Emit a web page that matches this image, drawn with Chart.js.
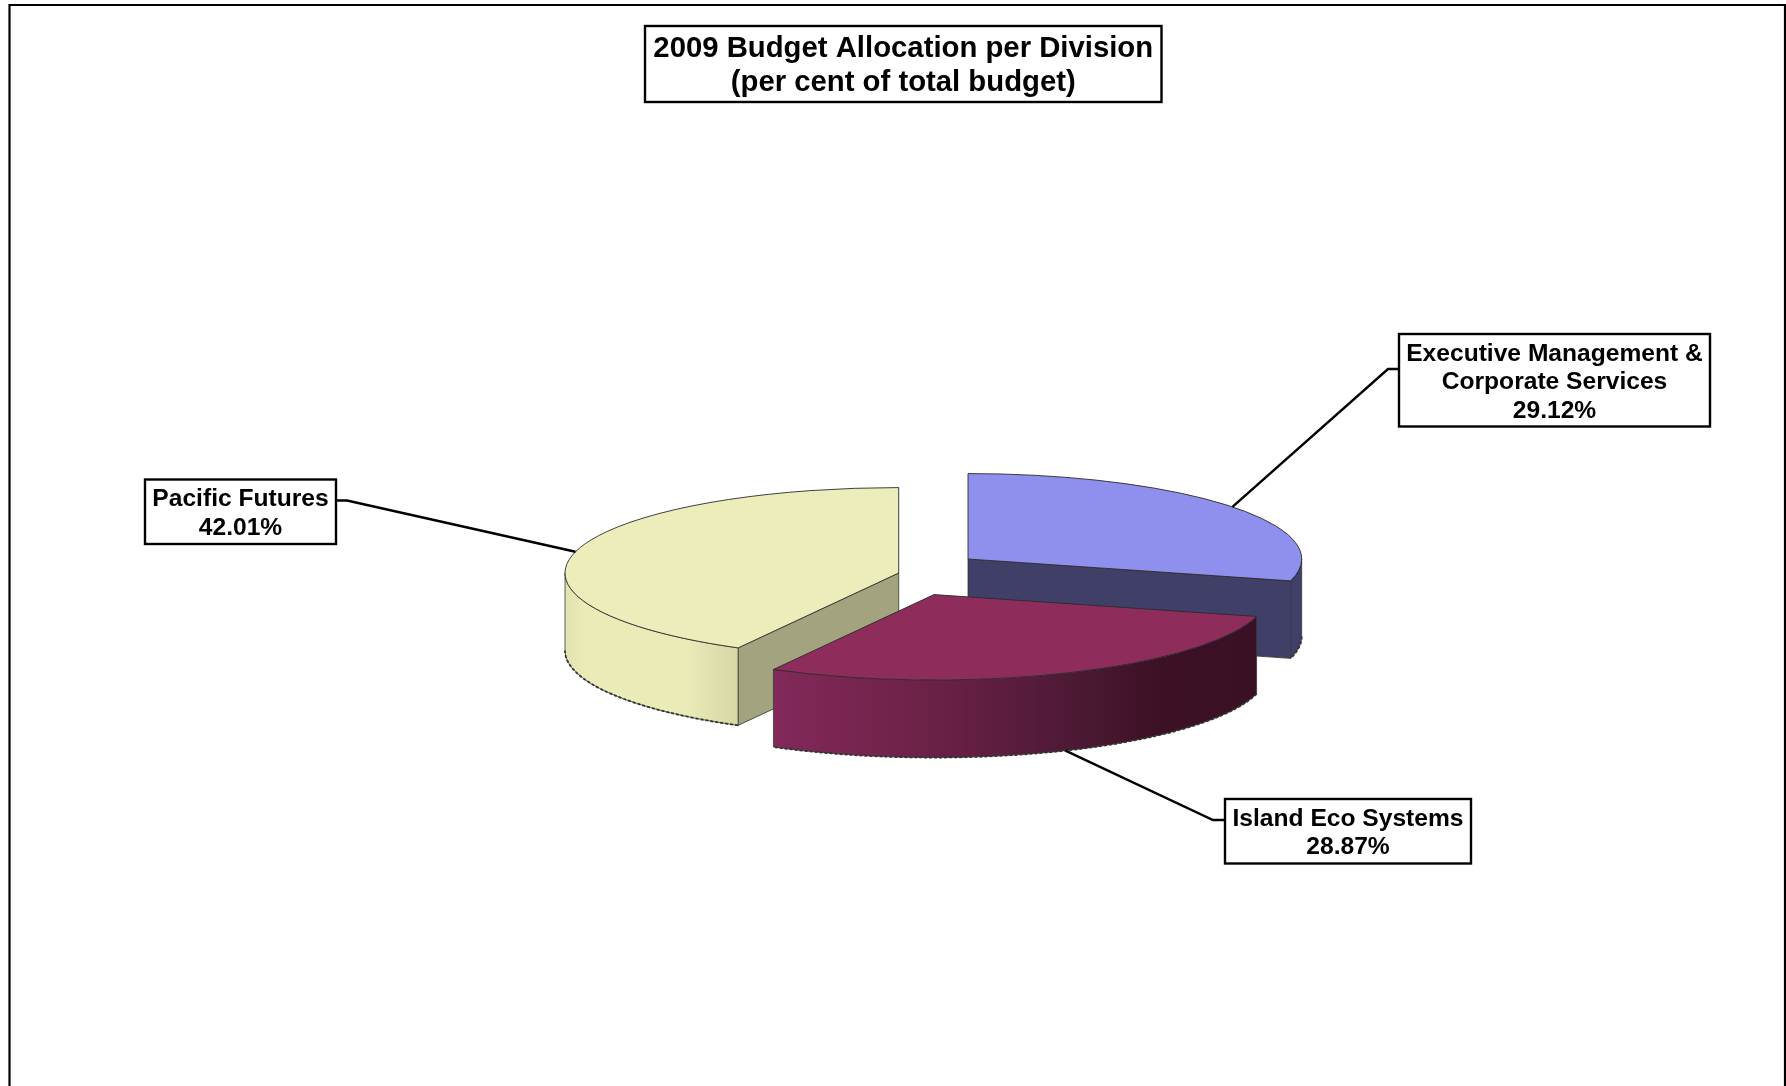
<!DOCTYPE html>
<html>
<head>
<meta charset="utf-8">
<title>2009 Budget Allocation per Division</title>
<script src="https://cdn.jsdelivr.net/npm/chart.js@4"></script>
<style>
  html, body { margin: 0; padding: 0; background: #fff; overflow: hidden; }
  canvas { display: block; }
</style>
</head>
<body>
<canvas id="budget" width="1786" height="1086"></canvas>
<script>
// budget share per division, in per cent
const divisions = ['Pacific Futures', 'Executive Management & Corporate Services', 'Island Eco Systems'];
const shares = [42.01, 29.12, 28.87];
const titleLines = ['2009 Budget Allocation per Division', '(per cent of total budget)'];

// label text is wrapped by hand, one entry per division
const labelLines = [['Pacific Futures'], ['Executive Management &', 'Corporate Services'], ['Island Eco Systems']];

const topColors = ['#ededbc', '#8f8fed', '#8e2c5c'];
const cutColors = ['#a3a380', '#3f3f68', '#5a1c3a'];
const wallStops = [
  [[0, '#e2e2b2'], [0.12, '#ebebb8'], [0.7, '#ebebb8'], [1, '#d6d6a6']],
  [[0, '#3f3f6a'], [1, '#3f3f6a']],
  [[0, '#82295a'], [0.3, '#6e2248'], [0.6, '#4f1a36'], [0.8, '#3c1125'], [1, '#3a1024']]
];

// how far each slice is pulled away from the pie centre
const pull = [[5.7, 30], [75, 16], [41, 51.6]];
const TILT = 0.256;
const DEPTH = 77.5;
const RADIUS = 333.7;

const boxes = [
  { x: 145, y: 479.5, w: 191, h: 64.5, elbow: [347, 500.5], side: 'right' },
  { x: 1399, y: 334, w: 311, h: 92.5, elbow: [1388, 369], side: 'left' },
  { x: 1225, y: 799, w: 246, h: 64.5, elbow: [1213, 820], side: 'left' }
];

const FONT = '"Liberation Sans", Arial, sans-serif';

function drawBox(ctx, x, y, w, h, lines, size, lineHeight) {
  ctx.fillStyle = '#fff';
  ctx.strokeStyle = '#000';
  ctx.lineWidth = 2.4;
  ctx.fillRect(x, y, w, h);
  ctx.strokeRect(x, y, w, h);
  ctx.fillStyle = '#000';
  ctx.font = 'bold ' + size + 'px ' + FONT;
  ctx.textAlign = 'center';
  ctx.textBaseline = 'middle';
  const top = y + h / 2 - (lines.length - 1) * lineHeight / 2;
  lines.forEach((line, i) => ctx.fillText(line, x + w / 2, top + i * lineHeight + 2));
}

// one slice: cut faces, outer wall, then the top face
function drawSlice(ctx, arc, i) {
  const { x, y, startAngle, endAngle, outerRadius } = arc.getProps(['x', 'y', 'startAngle', 'endAngle', 'outerRadius']);
  let a0 = startAngle;
  let a1 = endAngle;
  if (a0 < -Math.PI / 2 - 1e-6) { a0 += Math.PI * 2; a1 += Math.PI * 2; }

  const cx = x + pull[i][0];
  const cy = y + pull[i][1];
  const rx = outerRadius;
  const ry = outerRadius * TILT;
  const px = a => cx + rx * Math.cos(a);
  const py = a => cy + ry * Math.sin(a);

  ctx.lineJoin = 'round';

  // radial cut faces, only the ones turned to the viewer
  [[a0, Math.cos(a0) < -1e-6], [a1, Math.cos(a1) > 1e-6]].forEach(([a, visible]) => {
    if (!visible) return;
    ctx.beginPath();
    ctx.moveTo(cx, cy);
    ctx.lineTo(px(a), py(a));
    ctx.lineTo(px(a), py(a) + DEPTH);
    ctx.lineTo(cx, cy + DEPTH);
    ctx.closePath();
    ctx.fillStyle = cutColors[i];
    ctx.fill();
    ctx.strokeStyle = '#33332a';
    ctx.lineWidth = 0.8;
    ctx.stroke();
  });

  // outer wall on the front half of the rim
  const w0 = Math.max(a0, 0);
  const w1 = Math.min(a1, Math.PI);
  if (w1 > w0) {
    const xs = [px(w0), px(w1)];
    if (w0 <= 0 || w1 >= Math.PI) xs.push(w0 <= 0 ? cx + rx : cx - rx);
    const g = ctx.createLinearGradient(Math.min(...xs), 0, Math.max(...xs), 0);
    wallStops[i].forEach(s => g.addColorStop(s[0], s[1]));
    ctx.beginPath();
    ctx.ellipse(cx, cy, rx, ry, 0, w0, w1);
    ctx.ellipse(cx, cy + DEPTH, rx, ry, 0, w1, w0, true);
    ctx.closePath();
    ctx.fillStyle = g;
    ctx.fill();
    ctx.strokeStyle = '#3a3a3a';
    ctx.lineWidth = 0.8;
    ctx.stroke();

    // the lower rim comes out broken and grey
    ctx.beginPath();
    ctx.ellipse(cx, cy + DEPTH, rx, ry, 0, w0, w1);
    ctx.setLineDash([3, 2]);
    ctx.strokeStyle = '#333';
    ctx.lineWidth = 1.8;
    ctx.stroke();
    ctx.setLineDash([]);
  }

  // top face
  ctx.beginPath();
  ctx.moveTo(cx, cy);
  ctx.ellipse(cx, cy, rx, ry, 0, a0, a1);
  ctx.closePath();
  ctx.fillStyle = topColors[i];
  ctx.fill();
  ctx.strokeStyle = '#2b2b2b';
  ctx.lineWidth = 0.9;
  ctx.stroke();
}

// leader line runs from the box elbow to the rim at the slice's mid angle
function leaderAnchor(arc, i) {
  const { x, y, outerRadius, startAngle, endAngle } = arc.getProps(['x', 'y', 'outerRadius', 'startAngle', 'endAngle']);
  const mid = (startAngle + endAngle) / 2;
  const ax = x + pull[i][0] + outerRadius * Math.cos(mid);
  let ay = y + pull[i][1] + outerRadius * TILT * Math.sin(mid);
  if (Math.sin(mid) > 0) ay += DEPTH;
  return [ax, ay];
}

const tiltedPie = {
  id: 'tiltedPie',
  beforeDraw(chart) {
    const ctx = chart.ctx;
    ctx.save();
    ctx.fillStyle = '#fff';
    ctx.fillRect(0, 0, chart.width, chart.height);
    // outer frame, the bottom edge runs off the page
    ctx.strokeStyle = '#000';
    ctx.lineWidth = 2.2;
    ctx.beginPath();
    ctx.moveTo(9.5, chart.height + 2);
    ctx.lineTo(9.5, 5);
    ctx.lineTo(1785, 5);
    ctx.lineTo(1785, chart.height + 2);
    ctx.stroke();
    ctx.restore();
  },
  beforeDatasetDraw(chart, args) {
    const ctx = chart.ctx;
    ctx.save();
    args.meta.data.forEach((arc, i) => drawSlice(ctx, arc, i));
    ctx.restore();
    return false;
  },
  afterDatasetsDraw(chart) {
    const ctx = chart.ctx;
    const arcs = chart.getDatasetMeta(0).data;
    ctx.save();
    boxes.forEach((b, i) => {
      const anchor = leaderAnchor(arcs[i], i);
      ctx.beginPath();
      ctx.moveTo(b.side === 'left' ? b.x : b.x + b.w, b.elbow[1]);
      ctx.lineTo(b.elbow[0], b.elbow[1]);
      ctx.lineTo(anchor[0], anchor[1]);
      ctx.strokeStyle = '#000';
      ctx.lineWidth = 2.4;
      ctx.stroke();
      drawBox(ctx, b.x, b.y, b.w, b.h, labelLines[i].concat(shares[i].toFixed(2) + '%'), 24.6, 28.5);
    });
    drawBox(ctx, 645, 26, 516.5, 76, titleLines, 29.3, 34);
    ctx.restore();
  }
};

new Chart(document.getElementById('budget'), {
  type: 'pie',
  data: {
    labels: divisions,
    datasets: [{
      data: shares,
      backgroundColor: topColors,
      borderWidth: 0,
      radius: RADIUS
    }]
  },
  options: {
    responsive: false,
    animation: false,
    // Pacific Futures closes at twelve o'clock
    rotation: -shares[0] / 100 * 360,
    layout: { padding: 0 },
    plugins: {
      legend: { display: false },
      tooltip: { enabled: false }
    }
  },
  plugins: [tiltedPie]
});
</script>
</body>
</html>
